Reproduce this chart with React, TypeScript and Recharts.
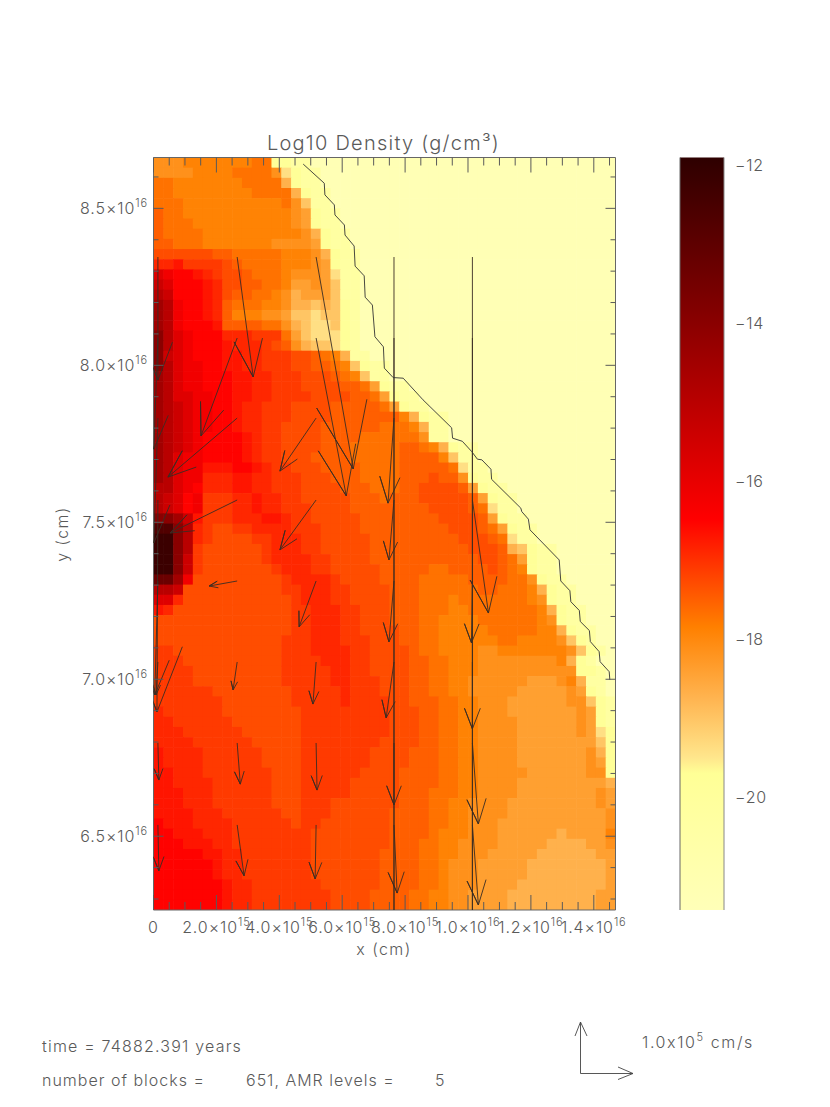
import React from "react";
import { ComposedChart, Scatter, XAxis, YAxis, ReferenceLine, ReferenceArea } from "recharts";

// all lengths in units of 1e15 cm
const X_DOMAIN = [0, 14.69];
const Y_DOMAIN = [62.65, 86.62];
const COLS = 47;
const X_MAJOR = [0, 2, 4, 6, 8, 10, 12, 14];
const Y_MAJOR = [65, 70, 75, 80, 85];
const X_TICKS = [0, 0.5, 1, 1.5, 2, 2.5, 3, 3.5, 4, 4.5, 5, 5.5, 6, 6.5, 7, 7.5, 8, 8.5, 9, 9.5, 10, 10.5, 11, 11.5, 12, 12.5, 13, 13.5, 14, 14.5];
const Y_TICKS = [63, 64, 65, 66, 67, 68, 69, 70, 71, 72, 73, 74, 75, 76, 77, 78, 79, 80, 81, 82, 83, 84, 85, 86];
const BAR_TICKS = [-12, -14, -16, -18, -20];
const BAR_DOMAIN = [-21.43, -11.9];

// log10 density for each letter used in the rows below
const LEVELS: Record<string, number> = {
  A: -21.3, B: -20.3, C: -19.8, D: -19.4, E: -19.0, F: -18.7, G: -18.4, H: -18.15, I: -17.9,
  J: -17.7, K: -17.5, L: -17.3, M: -17.1, N: -16.9, O: -16.7, P: -16.5, Q: -16.2, R: -15.8,
  S: -15.4, T: -15.0, U: -14.5, V: -14.0, W: -13.3, X: -12.7, Y: -12.2,
};

// density cells, top row first, groups of ten columns; missing cells are ambient
const DENSITY_ROWS = [
  "HHHIIIIIII JJCCBBAAAA",
  "HHHHIIIIJJ JJHDCBBAAA",
  "JJIIIIIIIJ JJJFCBBAAA",
  "JJIIIIIIII JJJJFCBBAA",
  "JJJIIIIIII IIIJHEBBAA",
  "KJJIIIIIII IIIIHGCBBA",
  "KJJJIIIIII IIIIHGCBBA",
  "KJJJJIIIII IIIIIHFCBB",
  "KKJJJIIIII IIHHHHGCBB",
  "LLLLLLKKJJ JJJIIIHFCB B",
  "NNOMMMMLKJ JJJIIIHGCB B",
  "RQPPONMLLK JJJIHHHGDB B",
  "SRPPPONLLK KJJIGGHGEB B",
  "TSPPPONLKK JJIHFGGGEB B",
  "UTQPPONKJJ JIIHFFEFEC B",
  "UTQPPONKII IHHGEEDEEC B",
  "UTQPPPOKKK KJJHFEDDEC B",
  "VTRQPPPNNN MMMJGEDDDC B",
  "VTRQPPPONN NMLKHFEEDC B",
  "VSRQPPPOON NMMMLLKJIF BB",
  "VTRQQPPOON NMMMLLKKJI ECBB",
  "UTRQQPPPOO NNMMMLLLKJ IEBB",
  "UTRQQPPPOO NNMMMLLLLK KJGCBB",
  "UTRRQQPPOO NNMMMMLLLL KKJGCBB",
  "UTSRQQPPON NMMMLLLLKK KKKJGCBB",
  "UTSRQQPPON NMMMLLLLKK KKKKKIFCBB",
  "UTSRQQPPON NMMLLLLKKK KKKJJJIFBB",
  "UTSRQPPPPO NMMLLLLKKK KJJJJJJHBB",
  "UTSRQPPPPO NMMLLLLKKK JJJJJKKJIF CBB",
  "UTRQQPPPPO NMMLLLKKKK JJJJJKKKKI EBB",
  "UTRQQOOOPP ONMMLLLKKK KJJJJKKKKK JDBB",
  "UTRQQNNNOO NNMMMLLLKK KJJJJKKKLK KHCBB",
  "TTRQPNNNOO NNMMMLLLLK KKJJJKKLLL LKGCBB",
  "TSRPQMMMNN ONNMMLLLLL KKKJKKKLLL LLKGCBB",
  "TSRPQMMMNN ONNMMMLLLL KKKKKKKKLL LLKJDBB",
  "VVUSOMMMNN NOONMMLLLL LKKKKKKKKL LLLKGCBB",
  "XXVTNMLLMM NNNNMMMLLL LKKKKKKKKK LLLKJGCBB",
  "YYVTNMLLLL MMNNNMMLLL LLKKKKKKKK KLLLKJDBB",
  "YYVTMLLLLL LMNNNMMLLL LLKKKKKKKK KKLLLKFECB B",
  "YYVSMLLLLL LMNNNNMMLL LLKKKKKKKK KKKLLKJGCB B",
  "YYVSMLLLLL LLMNNNMMLL LLLKKKKKJJ KKKKLKJICB B",
  "WWUQLLLLLL LLLMNNNNML LLLKKKKJJJ JJKKKKJJHC BB",
  "TTSLLLLLLL LLLMMNNNMM LLLLKKKJJJ JJJKKJJJIF CBB",
  "RRNLLLLLLL LLLLMNNNMM LLLLKKKJJJ IJJJJJJJIH CBB",
  "ONLLLLLLLL LLLLMMNNNM MLLLKKKJJJ IIJJJJJJJI FCBB",
  "LLLLLLLLLL LLLLMMNNNM MLLLKKKJJI IIIJJJJJJI HCBB",
  "LLLLLLLLLL LLLLMMNNNM MLLLLKKJJI IIIIJJJJJI IFCBB",
  "LLLLLLLLLL LLLMMMNNNM MMLLLKKJJI IIIIIJJIII IHECB",
  "MMLLLLLLLL LLLMMMNNNN MMLLLLKJJI IIIHHIIIII IIHECB",
  "MMMLLLLLLL LLLMMMMNNN MMLLLLKKJJ IIIHHHHHHH HIFCB",
  "MMMMLLLLLL LLLMMMMMNN MMLLLLKKJJ IIIHHHHHHH HHHCCB",
  "MMMMLLLLLL LLLMMMMMNN MMMLLLKKJJ IIHHHHHHGG GHIFBB",
  "MMMMMMLLLL LLLLMMMMMN MMMLLLKKJJ IIHHHHHGGG GGHGCB",
  "MMMMMMMLLL LLLLMMMMMN MMMMLLKKKJ JIIHHHGGGG GGHHECB",
  "NMMMMMMLLL LLLLLMMMMM MMMMLLLKKJ JIIHHHGGGG GGGHGCB",
  "NNMMMMMMLL LLLLLMMMMM MMMMLLLKKJ JIIHHHHGGG GGGHGCB",
  "NNNMMMMMML LLLLLMMMMM MMMMLLLKKJ JIIHHHHGGG GGGHGDC",
  "NNNNMMMMMM LLLLLMMMMM MMMLLLLKKJ JIIHHHHGGG GGGGGEC",
  "ONNNNMMMMM MLLLLMMMMM MMLLLLKKKJ JIIHHHHGGG GGGGHFC",
  "ONNNNMMMMM MLLLLMMMMM MMLLLLKKKJ JIIHHHHGGG GGGGHGC",
  "OONNNMMMMM MMLLLMMMMM MLLLLKKKKJ JIIHHHHHGG GGGGHHC",
  "OONNNNMMMM MMLLLMMMMM LLLLLKKKKJ JIIHHHHGGG GGGGGGF",
  "OOONNNMMMM MMLLLMMMMM LLLLLKKKJJ JIIHHHHGGG GGGGGHG",
  "OOONNNMMMM MMLLLMMMLL LLLLLKKKJJ IIHHHHGGGG GGGGGHG",
  "OOOONNNMMM MMMLLMMMLL LLLLKKKKJJ IIHHHHGGGG GGGGGGH",
  "POOONNNNMM MMMMLMMLLL LLLLKKKKJJ IIHHHGGGGG GGGGGGH",
  "PPOOONNNMM MMMMMMLLLL LLLLKKKKJI IIHHHGGGGG GFGGGGI",
  "PPPOOONNMM MMMMMMLLLL LLLLKKKJJI IHHHHGGGGG FFFFGGH",
  "PPPPPOONNM MMMMMMLLLL LLLKKKKJJI IHHHGGGGGF FFFFFGG",
  "PPPPPPONNM MMMMMMLLLL LLLKKKKJJI HHHGGGGGFF FFFFFFG",
  "PPPPPPONNM MMMMMMLLLL LLLKKKKJJI HHHGGGGGFF FFFFFFG",
  "PPPPPPPONN MMMMMMMLLL LLLKKKKJJI HHHGGGGFFF FFFFFFG",
  "PPPPPPPONN MMMMMMMMLL LLKKKKJJII HHGGGGFFFF FFFFFGG",
  "PPPPPPPONN MMMMMMMMLL LLKKKKJJII HHGGGGFFFF FFFFFGG",
];

// colour table of the bar: log10 density -> rgb
const COLOR_VALUES = [-11.9, -14, -16.48, -17.85, -18.75, -19.5, -19.7, -21.43];
const COLOR_RGB = [[46, 0, 0], [138, 0, 0], [255, 0, 0], [255, 128, 0], [255, 180, 80], [255, 230, 140], [255, 255, 150], [255, 255, 184]];

// velocity arrows: tails sit on a coarse grid, offsets to the head per tail
const ARROW_X = [0.14, 2.66, 5.17, 7.647, 10.14];
const ARROW_Y = [83.45, 80.87, 78.32, 75.71, 73.13, 70.55, 67.97, 65.36];
const ARROW_DX = [
  [0, -0.13, -0.13, -0.03, -0.1, -0.06, 0.03, 0.03],
  [0.51, -1.15, -2.2, -2.13, -0.89, -0.13, 0.1, 0.22],
  [1.18, 0.96, -1.15, -1.15, -0.54, -0.1, 0.03, -0.03],
  [null, null, -0.19, -0.16, -0.16, -0.25, 0, 0.1],
  [null, null, null, 0.51, -0.03, 0, 0.19, 0.19],
];
const ARROW_DY = [
  [-3.92, -3.54, -3.98, -6.75, -3.63, -1.05, -1.18, -1.46],
  [-3.82, -3.12, -1.88, -1.05, -0.16, -0.89, -1.31, -1.62],
  [-6.75, -5.03, -1.69, -1.59, -1.46, -1.34, -1.5, -1.72],
  [null, null, -2.71, -1.91, -1.94, -1.78, -1.97, -2.17],
  [null, null, null, -3.6, -1.97, -2.13, -2.58, -2.55],
];
// off-scale vectors: only the shaft shows, running to the bottom of the plot
const STREAKS = [
  { x: 7.647, top: 83.45 }, { x: 7.647, top: 80.87 },
  { x: 10.14, top: 83.45 }, { x: 10.14, top: 80.87 },
];

const CONTOUR_X = [4.76, 5.43, 5.45, 5.75, 5.77, 6.07, 6.09, 6.38, 6.41, 6.7, 6.73, 6.96, 7.04, 7.31, 7.34, 7.62, 7.94, 8.57, 9.48, 9.51, 9.82, 10.12, 10.3, 10.44, 10.73, 10.75, 11.68, 11.71, 11.92, 11.97, 12.9, 12.95, 13.24, 13.27, 13.54, 13.57, 13.86, 13.89, 14.17, 14.2, 14.49, 14.51];
const CONTOUR_Y = [86.41, 85.8, 85.43, 85.11, 84.79, 84.47, 84.15, 83.8, 83.16, 82.85, 82.17, 81.92, 80.91, 80.59, 79.91, 79.61, 79.59, 78.9, 78.01, 77.68, 77.58, 77.25, 77.01, 76.99, 76.69, 76.37, 75.45, 75.34, 75.1, 74.76, 73.8, 73.13, 72.82, 72.47, 72.19, 71.84, 71.55, 71.2, 70.88, 70.56, 70.24, 69.98];

const W = 830;
const H = 1107;
const PLOT = { left: 153.5, right: 615.5, top: 157.5, bottom: 910 };
const BAR = { left: 680, right: 724 };
const FONT = "Inter, 'Liberation Sans', sans-serif";
const INK = "#5a5a5a";
const ARROW_INK = "#3a2c24";

function colorOf(v: number) {
  let i = 0;
  while (i < COLOR_VALUES.length - 2 && v < COLOR_VALUES[i + 1]) i++;
  const t = (v - COLOR_VALUES[i]) / (COLOR_VALUES[i + 1] - COLOR_VALUES[i]);
  const c = COLOR_RGB[i].map((a, k) => Math.round(a + (COLOR_RGB[i + 1][k] - a) * t));
  return `rgb(${c.join(",")})`;
}

const cellDx = (X_DOMAIN[1] - X_DOMAIN[0]) / COLS;
const cellDy = (Y_DOMAIN[1] - Y_DOMAIN[0]) / DENSITY_ROWS.length;

const cells = DENSITY_ROWS.flatMap((row, j) => {
  const letters = row.replace(/ /g, "").padEnd(COLS, "A").slice(0, COLS);
  return letters.split("").map((ch, i) => ({
    x: (i + 0.5) * cellDx,
    y: Y_DOMAIN[1] - (j + 0.5) * cellDy,
    fill: colorOf(LEVELS[ch]),
  }));
});

const cellW = (PLOT.right - PLOT.left) / COLS;
const cellH = (PLOT.bottom - PLOT.top) / DENSITY_ROWS.length;

function CellShape(props: any) {
  const { cx, cy, payload } = props;
  return <rect x={cx - cellW / 2} y={cy - cellH / 2} width={cellW + 0.6} height={cellH + 0.6} fill={payload.fill} />;
}

// shaft + two barbs as one polyline in data space
function arrowPoints(x: number, y: number, dx: number, dy: number) {
  const hx = x + dx;
  const hy = y + dy;
  const a = (21 * Math.PI) / 180;
  const barb = (s: number) => ({
    x: hx - 0.33 * (dx * Math.cos(s * a) - dy * Math.sin(s * a)),
    y: hy - 0.33 * (dx * Math.sin(s * a) + dy * Math.cos(s * a)),
  });
  return [{ x, y }, { x: hx, y: hy }, barb(1), { x: hx, y: hy }, barb(-1)];
}

const arrows: { x: number; y: number }[][] = [];
ARROW_X.forEach((x, c) => {
  ARROW_Y.forEach((y, r) => {
    const dx = ARROW_DX[c][r];
    const dy = ARROW_DY[c][r];
    if (dx !== null && dy !== null) arrows.push(arrowPoints(x, y, dx, dy));
  });
});
STREAKS.forEach((s) => arrows.push([{ x: s.x, y: s.top }, { x: s.x, y: Y_DOMAIN[0] }]));

const contour = CONTOUR_X.map((x, i) => ({ x, y: CONTOUR_Y[i] }));

function Sup({ base, exp, size = 16, supSize = 11 }: { base: string; exp: string; size?: number; supSize?: number }) {
  return (
    <>
      <tspan fontSize={size}>{base}</tspan>
      <tspan fontSize={supSize} dy={-7}>{exp}</tspan>
    </>
  );
}

function XTick(props: any) {
  const { x, payload } = props;
  const v = payload.value;
  const major = X_MAJOR.includes(v);
  const len = major ? 15 : 8;
  const exp = v >= 10 ? "16" : "15";
  const mant = v >= 10 ? (v / 10).toFixed(1) : v.toFixed(1);
  return (
    <g>
      <line x1={x} x2={x} y1={PLOT.bottom} y2={PLOT.bottom - len} stroke={INK} />
      <line x1={x} x2={x} y1={PLOT.top} y2={PLOT.top + len} stroke={INK} />
      {major && (
        <text x={x} y={933} textAnchor="middle" fill={INK} fontFamily={FONT} fontWeight={300} letterSpacing={0.9}>
          {v === 0 ? <tspan fontSize={16}>0</tspan> : <Sup base={`${mant}×10`} exp={exp} />}
        </text>
      )}
    </g>
  );
}

function YTick(props: any) {
  const { y, payload } = props;
  const v = payload.value;
  const major = Y_MAJOR.includes(v);
  const len = major ? 10 : 5;
  return (
    <g>
      <line x1={PLOT.left} x2={PLOT.left + len} y1={y} y2={y} stroke={INK} />
      <line x1={PLOT.right} x2={PLOT.right - len} y1={y} y2={y} stroke={INK} />
      {major && (
        <text x={148} y={y + 6} textAnchor="end" fill={INK} fontFamily={FONT} fontWeight={300} letterSpacing={0.9}>
          <Sup base={`${(v / 10).toFixed(1)}×10`} exp="16" />
        </text>
      )}
    </g>
  );
}

function BarTick(props: any) {
  const { y, payload } = props;
  return (
    <text x={735} y={y + 5.5} fill={INK} fontFamily={FONT} fontWeight={300} fontSize={16} letterSpacing={0.8}>
      {`−${Math.abs(payload.value)}`}
    </text>
  );
}

const label = { fill: INK, fontFamily: FONT, fontWeight: 300 } as const;

function Annotations() {
  return (
    <svg width={W} height={H} style={{ position: "absolute", left: 0, top: 0, pointerEvents: "none" }}>
      <text x={383.5} y={150} textAnchor="middle" fontSize={20} letterSpacing={1.25} {...label}>
        Log10 Density (g/cm³)
      </text>
      <text x={384} y={955} textAnchor="middle" fontSize={16} letterSpacing={1.4} {...label}>x (cm)</text>
      <text x={68} y={534} textAnchor="middle" fontSize={16} letterSpacing={1.4} transform="rotate(-90 68 534)" {...label}>y (cm)</text>
      <text x={42} y={1052} fontSize={16} letterSpacing={1.2} {...label}>time = 74882.391 years</text>
      <text x={42} y={1086} fontSize={16} letterSpacing={1} {...label}>number of blocks =</text>
      <text x={246} y={1086} fontSize={16} letterSpacing={1} {...label}>651, AMR levels =</text>
      <text x={435} y={1086} fontSize={16} {...label}>5</text>
      <text x={642} y={1048} fill={INK} fontFamily={FONT} fontWeight={300} letterSpacing={1.6}>
        <Sup base="1.0x10" exp="5" />
        <tspan fontSize={16} dy={7}> cm/s</tspan>
      </text>
      <path
        d="M580.5 1073.5V1022M575 1036L580.5 1022L587 1036M580.5 1073.5H633M618 1067L633 1073.5L618 1079.5"
        fill="none"
        stroke="#444"
        strokeWidth={0.9}
      />
    </svg>
  );
}

export default function App() {
  const layer = { position: "absolute", left: 0, top: 0 } as const;
  const span = BAR_DOMAIN[1] - BAR_DOMAIN[0];
  return (
    <div style={{ position: "absolute", left: 0, top: 0, width: W, height: H, background: "#fff" }}>
      <div style={layer}>
        <ComposedChart
          width={W}
          height={H}
          margin={{ left: PLOT.left, right: W - PLOT.right, top: PLOT.top, bottom: H - PLOT.bottom }}
        >
          <XAxis type="number" dataKey="x" domain={X_DOMAIN} hide allowDataOverflow />
          <YAxis type="number" dataKey="y" domain={Y_DOMAIN} hide allowDataOverflow />
          <Scatter data={cells} shape={CellShape} isAnimationActive={false} />
        </ComposedChart>
      </div>
      <div style={layer}>
        <ComposedChart
          width={W}
          height={H}
          margin={{ left: PLOT.left - 1, right: W - PLOT.right, top: PLOT.top, bottom: H - PLOT.bottom - 1 }}
        >
          <XAxis
            type="number"
            dataKey="x"
            domain={X_DOMAIN}
            ticks={X_TICKS}
            interval={0}
            height={1}
            tickSize={0}
            tickLine={false}
            axisLine={false}
            tick={XTick}
            allowDataOverflow
          />
          <YAxis
            type="number"
            dataKey="y"
            domain={Y_DOMAIN}
            ticks={Y_TICKS}
            interval={0}
            width={1}
            tickSize={0}
            tickLine={false}
            axisLine={false}
            tick={YTick}
            allowDataOverflow
          />
          {arrows.map((pts, i) => (
            <Scatter
              key={i}
              data={pts}
              line={{ stroke: ARROW_INK, strokeWidth: 0.9 }}
              lineType="joint"
              shape={() => null}
              isAnimationActive={false}
            />
          ))}
          <Scatter
            data={contour}
            line={{ stroke: "#333", strokeWidth: 0.9 }}
            lineType="joint"
            shape={() => null}
            isAnimationActive={false}
          />
          <ReferenceArea
            x1={X_DOMAIN[0]}
            x2={X_DOMAIN[1]}
            y1={Y_DOMAIN[0]}
            y2={Y_DOMAIN[1]}
            fill="none"
            stroke="#666"
            ifOverflow="visible"
          />
        </ComposedChart>
      </div>
      <div style={layer}>
        <ComposedChart
          width={W}
          height={H}
          margin={{ left: BAR.left, right: W - BAR.right - 1, top: PLOT.top, bottom: H - PLOT.bottom }}
        >
          <defs>
            <linearGradient id="densityBar" x1="0" y1="0" x2="0" y2="1">
              {COLOR_VALUES.map((v) => (
                <stop key={v} offset={(BAR_DOMAIN[1] - v) / span} stopColor={colorOf(v)} />
              ))}
            </linearGradient>
          </defs>
          <XAxis type="number" dataKey="x" domain={[0, 1]} hide allowDataOverflow />
          <YAxis
            type="number"
            dataKey="y"
            orientation="right"
            domain={BAR_DOMAIN}
            ticks={BAR_TICKS}
            interval={0}
            width={1}
            tickSize={0}
            tickLine={false}
            axisLine={false}
            tick={BarTick}
            allowDataOverflow
          />
          <Scatter data={[{ x: 0, y: BAR_DOMAIN[0] }, { x: 1, y: BAR_DOMAIN[1] }]} shape={() => null} isAnimationActive={false} />
          <ReferenceArea x1={0} x2={1} y1={BAR_DOMAIN[0]} y2={BAR_DOMAIN[1]} fill="url(#densityBar)" fillOpacity={1} ifOverflow="visible" />
          <ReferenceLine x={0} stroke="#666" ifOverflow="visible" />
          <ReferenceLine x={1} stroke="#888" ifOverflow="visible" />
        </ComposedChart>
      </div>
      <Annotations />
    </div>
  );
}
